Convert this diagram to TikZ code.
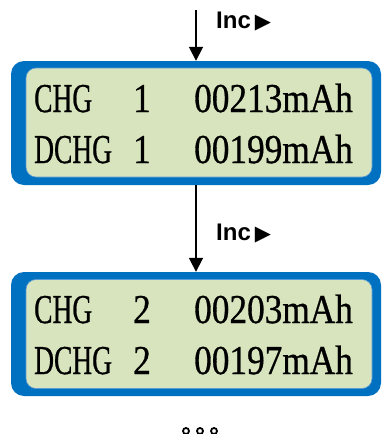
\documentclass[tikz,border=0pt]{standalone}
\usepackage{fontspec}
\usetikzlibrary{arrows.meta}
\newfontfamily\lcdfont[FakeBold=0.8]{Liberation Serif}
\newfontfamily\incfont{Liberation Sans}
\newfontfamily\symfont{DejaVu Sans}
\definecolor{lcdblue}{HTML}{0070C0}
\definecolor{lcdgreen}{HTML}{D7E4BD}
\definecolor{lcdedge}{HTML}{5B9BD5}
\tikzset{
  outerbox/.style={fill=lcdblue, rounded corners=13pt, minimum width=370pt, minimum height=124pt, inner sep=0pt},
  innerbox/.style={fill=lcdgreen, draw=lcdedge, line width=0.6pt, rounded corners=10pt, minimum width=346pt, minimum height=109pt, inner sep=0pt},
  lcdtxt/.style={anchor=base west, inner sep=0pt, font=\lcdfont\fontsize{41}{41}\selectfont},
  inclabel/.style={anchor=base west, inner sep=0pt, font=\incfont\bfseries\fontsize{24}{24}\selectfont},
  arr/.style={line width=1.8pt, -{Triangle[width=14pt,length=14pt]}},
  dotring/.style={draw=black, line width=1.8pt}
}
\newcommand{\ltr}[1]{\scalebox{0.67}[1]{#1}}
\newcommand{\dgt}[1]{\scalebox{0.86}[1]{#1}}
\begin{document}
\begin{tikzpicture}[x=1pt,y=-1pt]
\useasboundingbox (0,0) rectangle (382,434);
% boxes
\node[outerbox] (b1) at (196,123) {};
\node[innerbox] (i1) at (199,122.5) {};
\node[outerbox] (b2) at (196,334) {};
\node[innerbox] (i2) at (199,334) {};
% text box 1
\node[lcdtxt] (t11) at (34,112) {\ltr{CHG}};
\node[lcdtxt] (t12) at (133,112) {\dgt{1}};
\node[lcdtxt] (t13) at (194,112) {\dgt{00213mAh}};
\node[lcdtxt] (t14) at (34,163) {\ltr{DCHG}};
\node[lcdtxt] (t15) at (133,163) {\dgt{1}};
\node[lcdtxt] (t16) at (194,163) {\dgt{00199mAh}};
% text box 2
\node[lcdtxt] (t21) at (34,323) {\ltr{CHG}};
\node[lcdtxt] (t22) at (133,323) {\dgt{2}};
\node[lcdtxt] (t23) at (194,323) {\dgt{00203mAh}};
\node[lcdtxt] (t24) at (34,374) {\ltr{DCHG}};
\node[lcdtxt] (t25) at (133,374) {\dgt{2}};
\node[lcdtxt] (t26) at (194,374) {\dgt{00197mAh}};
% arrows
\coordinate (a0) at (196,10);
\draw[arr] (a0) -- (b1.north);
\draw[arr] (b1.south) -- (b2.north);
% labels
\node[inclabel] (inc1) at (216,28) {Inc\,{\symfont\fontsize{21}{21}\selectfont ▶}};
\node[inclabel] (inc2) at (216,240) {Inc\,{\symfont\fontsize{21}{21}\selectfont ▶}};
% continuation dots
\draw[dotring] (186,431) circle (3pt);
\draw[dotring] (200,431) circle (3pt);
\draw[dotring] (214,431) circle (3pt);
\end{tikzpicture}
\end{document}
